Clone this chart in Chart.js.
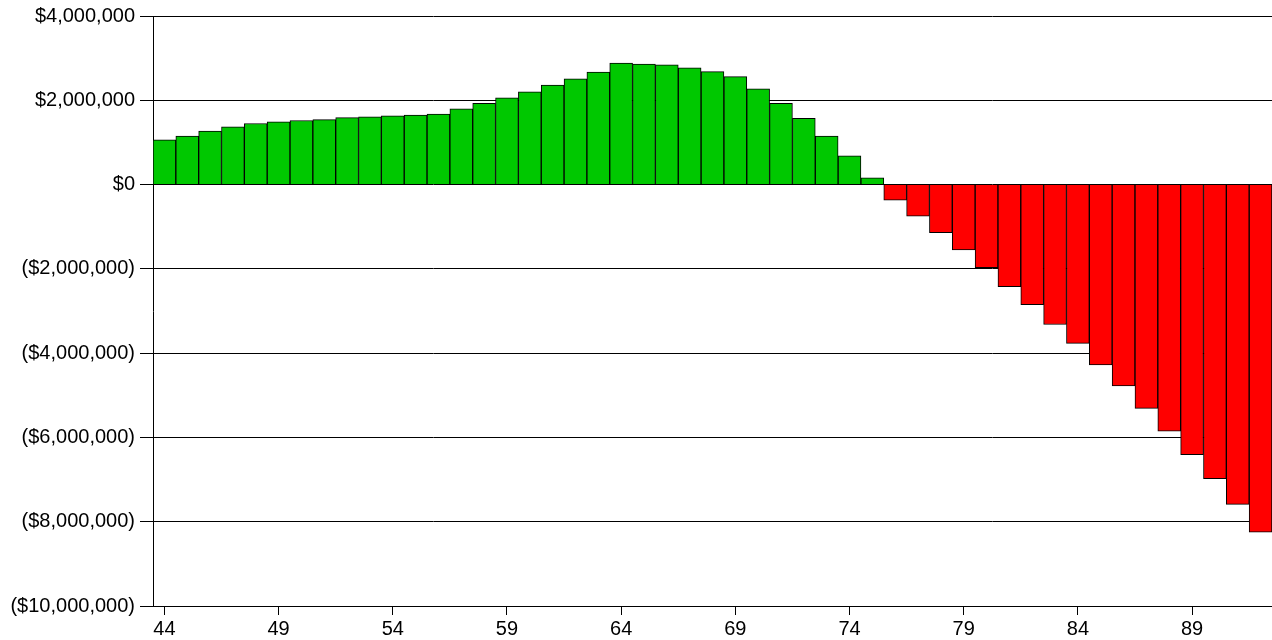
<!DOCTYPE html>
<html lang="en">
<head>
    <meta charset="UTF-8" />
    <title>Net worth by age</title>
    <script src="https://cdn.jsdelivr.net/npm/chart.js"></script>
    <style>
        body { margin: 0; background: #fff; }
        #wrap { width: 1272px; height: 640px; }
    </style>
</head>
<body>
    <div id="wrap"><canvas id="chart"></canvas></div>
    <script>
        // ages on the x axis
        const ages = [];
        for (let a = 44; a <= 92; a++) ages.push(String(a));

        // balance at each age, in dollars
        const balances = [
            1060000, 1150000, 1270000, 1370000, 1450000, 1490000, 1520000, 1540000,
            1590000, 1610000, 1630000, 1650000, 1670000, 1800000, 1930000, 2060000,
            2200000, 2360000, 2510000, 2670000, 2880000, 2860000, 2840000, 2770000,
            2680000, 2560000, 2270000, 1930000, 1570000, 1150000, 680000, 160000,
            -370000, -750000, -1140000, -1550000, -1970000, -2420000, -2850000, -3320000,
            -3770000, -4280000, -4780000, -5310000, -5850000, -6410000, -6980000, -7590000,
            -8250000
        ];

        const yMin = -10000000;
        const yMax = 4000000;
        const yStep = 2000000;

        const money = v => {
            const s = Math.abs(v).toLocaleString('en-US');
            return v < 0 ? '($' + s + ')' : '$' + s;
        };

        const font = { family: '"Liberation Sans", Arial, sans-serif', size: 20 };

        new Chart(document.getElementById('chart'), {
            type: 'bar',
            data: {
                labels: ages,
                datasets: [{
                    data: balances,
                    backgroundColor: balances.map(v => v >= 0 ? '#00C800' : '#FF0000'),
                    borderColor: '#000',
                    borderWidth: 1,
                    barPercentage: 1,
                    categoryPercentage: 1
                }]
            },
            options: {
                responsive: true,
                maintainAspectRatio: false,
                animation: false,
                layout: { padding: { top: 16, right: 0, bottom: 0, left: 0 } },
                plugins: { legend: { display: false }, tooltip: { enabled: false } },
                scales: {
                    x: {
                        grid: { drawOnChartArea: false, offset: false, color: '#000', tickLength: 9 },
                        border: { color: '#000', width: 1 },
                        ticks: {
                            autoSkip: false,
                            maxRotation: 0,
                            color: '#000',
                            font: font,
                            padding: 2,
                            callback: function (val, i) { return i % 5 === 0 ? ages[i] : null; }
                        },
                        afterFit: s => { s.height = 34; s.paddingLeft = 0; s.paddingRight = 0; }
                    },
                    y: {
                        min: yMin,
                        max: yMax,
                        grid: { color: '#000', lineWidth: 1, tickLength: 13 },
                        border: { color: '#000', width: 1 },
                        ticks: { stepSize: yStep, color: '#000', font: font, padding: 5, callback: v => money(v) },
                        afterFit: s => { s.width = 153; s.paddingTop = 0; s.paddingBottom = 0; }
                    }
                }
            }
        });
    </script>
</body>
</html>
